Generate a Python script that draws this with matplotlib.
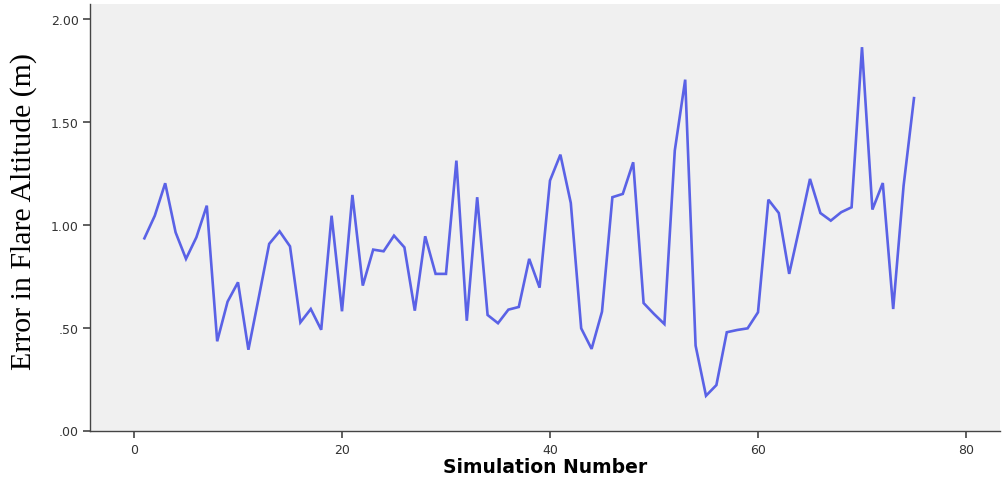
import matplotlib
matplotlib.use("Agg")
import matplotlib.pyplot as plt
from matplotlib.ticker import FuncFormatter

# Simulation index and error in flare altitude (m)
simulation = list(range(1, 76))
flare_error = [
    0.935, 1.045, 1.203, 0.964, 0.835, 0.940, 1.094, 0.434, 0.627, 0.721,
    0.393, 0.648, 0.908, 0.969, 0.896, 0.526, 0.591, 0.490, 1.045, 0.580,
    1.146, 0.705, 0.880, 0.872, 0.948, 0.891, 0.583, 0.945, 0.762, 0.762,
    1.313, 0.534, 1.135, 0.562, 0.522, 0.588, 0.601, 0.835, 0.695, 1.216,
    1.342, 1.107, 0.497, 0.397, 0.578, 1.135, 1.151, 1.305, 0.620, 0.567,
    0.518, 1.362, 1.707, 0.413, 0.169, 0.221, 0.478, 0.489, 0.497, 0.575,
    1.123, 1.058, 0.762, 0.990, 1.224, 1.058, 1.021, 1.062, 1.086, 1.865,
    1.075, 1.204, 0.591, 1.191, 1.617,
]
x_ticks = [0, 20, 40, 60, 80]
y_ticks = [0.0, 0.5, 1.0, 1.5, 2.0]

fig = plt.figure(figsize=(10.03, 4.81), dpi=100)
ax = fig.add_axes([90 / 1003, (481 - 431.5) / 481, 910 / 1003, 426.5 / 481])
ax.set_facecolor("#f0f0f0")

ax.plot(simulation, flare_error, color="#5a62e6", linewidth=1.9,
        solid_joinstyle="miter")

ax.set_xlim(-4.23, 83.27)
ax.set_ylim(0, 2.075)
ax.set_xticks(x_ticks)
ax.set_yticks(y_ticks)
ax.yaxis.set_major_formatter(
    FuncFormatter(lambda v, _: f"{v:.2f}".lstrip("0") if v < 1 else f"{v:.2f}"))

for side in ("top", "right"):
    ax.spines[side].set_visible(False)
for side in ("left", "bottom"):
    ax.spines[side].set_color("#444444")
    ax.spines[side].set_linewidth(1.0)

ax.tick_params(axis="both", direction="out", length=5, width=1.2,
               color="#444444", labelcolor="#333333", labelsize=9, pad=3)
ax.tick_params(axis="x", pad=4)

ax.set_xlabel("Simulation Number", fontsize=13.5, fontweight="bold",
              family="DejaVu Sans", labelpad=1)
ax.set_ylabel("Error in Flare Altitude (m)", fontsize=21.5,
              family="Liberation Serif")
ax.yaxis.set_label_coords(-0.058, 0.515)

fig.savefig("out.png", dpi=100, facecolor="white")
